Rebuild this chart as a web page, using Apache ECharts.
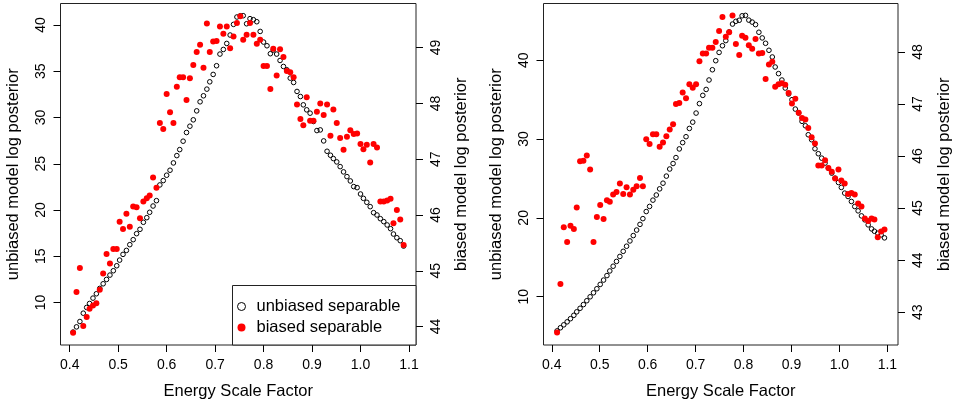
<!DOCTYPE html>
<html>
<head>
<meta charset="utf-8">
<script src="https://cdn.jsdelivr.net/npm/echarts@6/dist/echarts.min.js"></script>
<style>html,body{margin:0;padding:0;background:#fff}#chart{width:954px;height:405px}</style>
</head>
<body>
<div id="chart"></div>
<script>
// ---- data ----
const xLeft = [0.407,0.414,0.421,0.428,0.435,0.441,0.448,0.455,0.462,0.469,
0.476,0.483,0.490,0.497,0.503,0.510,0.517,0.524,0.531,0.538,
0.545,0.552,0.559,0.565,0.572,0.579,0.586,0.593,0.600,0.607,
0.614,0.621,0.627,0.634,0.641,0.648,0.655,0.662,0.669,0.676,
0.683,0.689,0.696,0.703,0.710,0.717,0.724,0.731,0.738,0.745,
0.752,0.758,0.765,0.772,0.779,0.786,0.793,0.800,0.807,0.814,
0.820,0.827,0.834,0.841,0.848,0.855,0.862,0.869,0.876,0.882,
0.889,0.896,0.903,0.910,0.917,0.924,0.931,0.938,0.944,0.951,
0.958,0.965,0.972,0.979,0.986,0.993,1.000,1.006,1.013,1.020,
1.027,1.034,1.041,1.048,1.055,1.062,1.068,1.075,1.082,1.089];

const leftUnbiased = [6.8,7.36,7.94,8.84,9.46,9.89,10.47,10.94,11.52,12.02,
12.49,12.96,13.43,13.97,14.58,15.20,15.63,16.25,16.79,17.44,
17.91,18.67,19.17,19.75,20.43,21.01,22.71,23.18,23.76,24.30,
25.09,25.88,26.53,27.44,28.38,29.06,29.75,30.72,31.70,32.35,
33.07,33.86,34.66,35.60,36.86,37.36,38.01,38.92,40.07,40.87,
41.0,41.01,40.14,40.69,40.58,40.36,39.31,38.16,37.76,36.90,
37.3,36.86,36.17,35.52,35.16,34.26,33.79,32.82,32.27,31.37,
30.83,30.47,29.57,28.59,28.66,27.47,26.35,25.92,25.56,25.20,
24.69,24.12,23.61,23.14,22.53,22.42,21.73,21.26,20.83,20.36,
19.71,19.46,19.06,18.74,18.38,17.98,17.40,17.00,16.68,16.10];

const leftBiased = [43.89,44.62,45.05,44.01,44.17,44.32,44.38,44.42,44.66,44.95,
45.30,45.13,45.39,45.39,45.88,45.75,46.02,45.79,46.15,46.14,
45.94,46.24,46.30,46.35,46.67,46.49,47.65,47.54,48.17,47.84,
47.65,48.30,48.47,48.47,48.06,48.45,48.69,48.92,49.05,48.64,
49.43,48.92,49.11,49.12,49.38,49.25,49.38,48.99,49.20,49.44,
49.56,49.14,49.23,49.44,49.23,49.07,49.14,48.67,48.67,48.26,
48.98,48.50,48.97,48.83,48.58,48.56,48.47,47.98,47.72,47.61,
48.11,47.69,47.69,47.85,48.00,47.79,47.98,47.42,47.89,47.65,
47.38,47.17,47.40,47.52,47.45,47.46,47.27,47.18,47.26,46.94,
47.27,47.21,46.24,46.24,46.26,46.29,45.85,46.09,45.92,45.46];

const xRight = [0.411,0.418,0.425,0.432,0.439,0.446,0.452,0.459,0.466,0.473,
0.480,0.487,0.494,0.501,0.508,0.515,0.521,0.528,0.535,0.542,
0.549,0.556,0.563,0.570,0.577,0.584,0.590,0.597,0.604,0.611,
0.618,0.625,0.632,0.639,0.646,0.653,0.659,0.666,0.673,0.680,
0.687,0.694,0.701,0.708,0.715,0.722,0.728,0.735,0.742,0.749,
0.756,0.763,0.770,0.777,0.784,0.791,0.797,0.804,0.811,0.818,
0.825,0.832,0.839,0.846,0.853,0.860,0.866,0.873,0.880,0.887,
0.894,0.901,0.908,0.915,0.922,0.929,0.935,0.942,0.949,0.956,
0.963,0.970,0.977,0.984,0.991,0.998,1.004,1.011,1.018,1.025,
1.032,1.039,1.046,1.053,1.060,1.067,1.073,1.080,1.087,1.094];

const rightUnbiased = [5.65,6.05,6.42,6.8,7.2,7.63,8.07,8.52,8.99,9.48,
9.98,10.49,11.0,11.55,12.1,12.67,13.26,13.86,14.47,15.1,
15.75,16.4,17.07,17.75,18.45,19.17,19.9,20.8,21.45,22.25,
22.9,23.68,24.4,25.3,26.2,26.9,27.65,28.75,29.55,30.3,
31.35,32.15,33.3,34.5,35.55,36.3,37.5,38.8,39.95,41.0,
41.85,42.5,43.6,44.6,44.95,45.08,45.65,45.7,45.1,44.85,
44.53,43.56,42.84,42.16,41.27,40.42,39.15,38.31,37.5,36.48,
35.72,35.0,33.81,33.31,32.25,31.69,30.55,29.92,28.77,28.14,
27.58,26.95,26.31,25.68,25.04,24.49,23.86,23.14,22.71,22.08,
21.44,20.89,20.25,19.75,19.11,18.6,18.3,18.05,17.84,17.46];

const rightBiased = [42.61,43.54,44.63,44.35,44.66,44.60,45.01,45.90,45.91,46.01,
45.74,44.35,44.83,45.06,44.79,45.15,45.12,45.26,45.31,45.47,
45.27,45.40,45.26,45.35,45.42,45.58,45.42,46.32,46.23,46.42,
46.42,46.18,46.26,46.38,46.51,46.61,47.00,47.02,47.22,47.11,
47.38,47.31,47.38,47.82,47.97,47.97,48.08,48.08,48.19,48.40,
48.67,48.29,48.38,48.70,48.15,47.94,48.31,48.27,48.13,48.06,
48.25,47.97,47.98,47.48,47.76,47.81,47.33,47.38,47.40,47.37,
47.21,47.01,47.10,46.83,46.73,46.70,46.54,46.36,46.24,45.82,
45.82,45.92,45.77,45.70,45.57,45.74,45.53,45.47,45.27,45.29,
45.26,45.09,45.03,44.80,44.75,44.80,44.78,44.44,44.55,44.59];

const xTicks = [0.4,0.5,0.6,0.7,0.8,0.9,1.0,1.1];
const leftYTicks = [10,15,20,25,30,35,40];
const leftY2Ticks = [44,45,46,47,48,49];
const rightYTicks = [10,20,30,40];
const rightY2Ticks = [43,44,45,46,47,48];

const xTitle = 'Energy Scale Factor';
const yTitle = 'unbiased model log posterior';
const y2Title = 'biased model log posterior';
const nameUnbiased = 'unbiased separable';
const nameBiased = 'biased separable';

// ---- chart ----
const FONT = '"Liberation Sans", Arial, Helvetica, sans-serif';
const pair = (xs, ys) => xs.map((x, i) => [x, ys[i]]);

function xAxisCfg(gi, min, max) {
  return {
    type: 'value', gridIndex: gi, min: min, max: max,
    name: xTitle, nameLocation: 'middle', nameGap: 38,
    nameTextStyle: {fontFamily: FONT, fontSize: 16.5, color: '#000'},
    axisLine: {show: false},
    axisTick: {show: true, inside: false, length: 7, customValues: xTicks, lineStyle: {color: '#000', width: 1}},
    axisLabel: {show: true, customValues: xTicks, margin: 13, fontFamily: FONT, fontSize: 14, color: '#000',
      formatter: v => v.toFixed(1)},
    splitLine: {show: false}
  };
}
function yAxisCfg(gi, pos, min, max, ticks, title, margin, gap) {
  return {
    type: 'value', gridIndex: gi, position: pos, min: min, max: max,
    name: title, nameLocation: 'middle', nameGap: gap, nameRotate: 90,
    nameTextStyle: {fontFamily: FONT, fontSize: 16.5, color: '#000'},
    axisLine: {show: false},
    axisTick: {show: true, inside: false, length: 7, customValues: ticks, lineStyle: {color: '#000', width: 1}},
    axisLabel: {show: true, customValues: ticks, rotate: 90, margin: margin, fontFamily: FONT, fontSize: 14, color: '#000'},
    splitLine: {show: false}
  };
}
function openSeries(xi, yi, data) {
  return {
    name: nameUnbiased, type: 'scatter', xAxisIndex: xi, yAxisIndex: yi,
    symbol: 'circle', symbolSize: 4.6, data: data, z: 2,
    itemStyle: {color: 'rgba(0,0,0,0)', borderColor: '#000', borderWidth: 1, opacity: 1},
    emphasis: {disabled: true}
  };
}
function redSeries(xi, yi, data) {
  return {
    name: nameBiased, type: 'scatter', xAxisIndex: xi, yAxisIndex: yi,
    symbol: 'circle', symbolSize: 6, data: data, z: 3,
    itemStyle: {color: '#ff0000', opacity: 1},
    emphasis: {disabled: true}
  };
}

const chart = echarts.init(document.getElementById('chart'), null, {renderer: 'canvas'});
chart.setOption({
  animation: false,
  backgroundColor: '#fff',
  textStyle: {fontFamily: FONT},
  grid: [
    {left: 60.5, top: 3.5, width: 355.5, height: 341.5, show: true, borderColor: '#222', borderWidth: 1, backgroundColor: 'transparent'},
    {left: 543.5, top: 3.5, width: 355.5, height: 341.5, show: true, borderColor: '#222', borderWidth: 1, backgroundColor: 'transparent'}
  ],
  xAxis: [xAxisCfg(0, 0.381, 1.1145), xAxisCfg(1, 0.3827, 1.1222)],
  yAxis: [
    yAxisCfg(0, 'left', 5.4, 42.33, leftYTicks, yTitle, 12, 39),
    yAxisCfg(0, 'right', 43.67, 49.79, leftY2Ticks, y2Title, 13, 37),
    yAxisCfg(1, 'left', 3.86, 47.21, rightYTicks, yTitle, 12, 39),
    yAxisCfg(1, 'right', 42.37, 48.93, rightY2Ticks, y2Title, 13, 38)
  ],
  legend: {
    show: true, left: 232, top: 285, orient: 'vertical',
    padding: [13, 0, 0, 5], itemWidth: 20, itemHeight: 8, itemGap: 4,
    selectedMode: false, z: 10,
    textStyle: {fontFamily: FONT, fontSize: 16.5, color: '#000', lineHeight: 16},
    data: [
      {name: nameUnbiased, icon: 'circle', itemStyle: {color: '#fff', borderColor: '#000', borderWidth: 1}},
      {name: nameBiased, icon: 'circle', itemStyle: {color: '#ff0000'}}
    ]
  },
  graphic: [{
    type: 'rect', z: 9, silent: true,
    shape: {x: 232.5, y: 285.5, width: 183.5, height: 59.5},
    style: {fill: '#fff', stroke: '#222', lineWidth: 1}
  }],
  series: [
    openSeries(0, 0, pair(xLeft, leftUnbiased)),
    redSeries(0, 1, pair(xLeft, leftBiased)),
    openSeries(1, 2, pair(xRight, rightUnbiased)),
    redSeries(1, 3, pair(xRight, rightBiased))
  ]
});
</script>
</body>
</html>
